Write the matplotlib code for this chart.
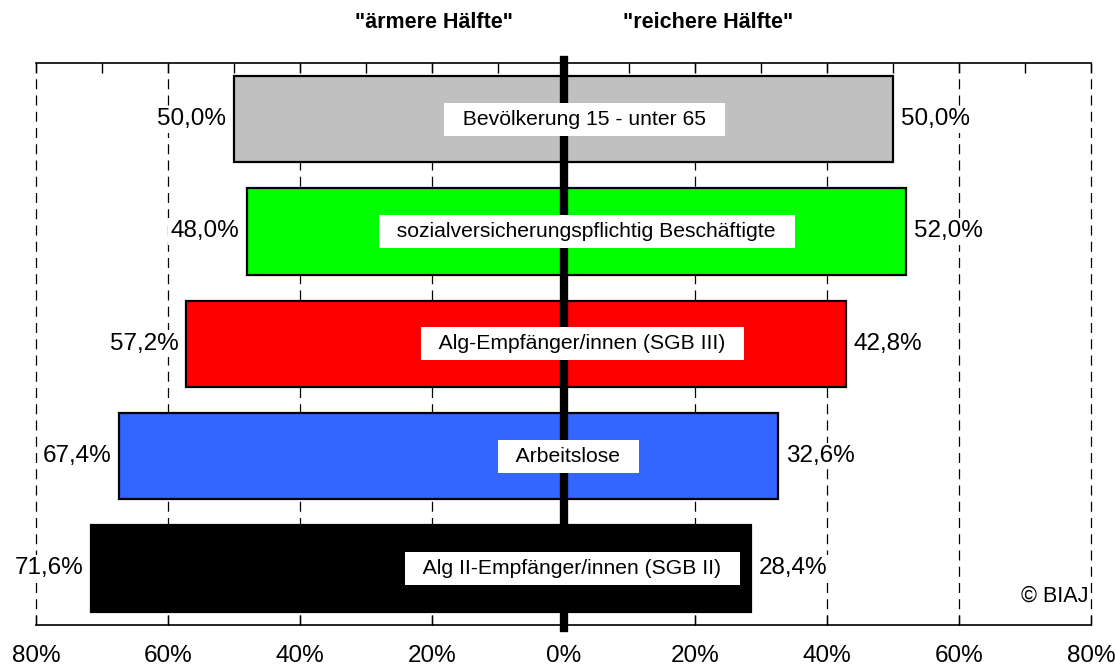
import matplotlib
matplotlib.use('Agg')
import matplotlib.pyplot as plt
from matplotlib.ticker import FuncFormatter, MultipleLocator

plt.rcParams['font.family'] = ['Liberation Sans', 'DejaVu Sans']

categories = ['Bevölkerung 15 - unter 65',
              'sozialversicherungspflichtig Beschäftigte',
              'Alg-Empfänger/innen (SGB III)',
              'Arbeitslose',
              'Alg II-Empfänger/innen (SGB II)']
poorer_half = [50.0, 48.0, 57.2, 67.4, 71.6]
richer_half = [50.0, 52.0, 42.8, 32.6, 28.4]
bar_colors = ['#C0C0C0', '#00FF00', '#FF0000', '#3366FF', '#000000']
header_left = '"ärmere Hälfte"'
header_right = '"reichere Hälfte"'
copyright_text = '© BIAJ'

# where the white name boxes sit (x in percent)
label_x = [3.2, 3.5, 2.9, 0.8, 1.4]


def pct(v):
    return ('%.1f' % v).replace('.', ',') + '%'


fig = plt.figure(figsize=(11.15, 6.69), dpi=100)
ax = fig.add_axes([0.0323, 0.0665, 0.9462, 0.8393])

ypos = list(range(len(categories)))
widths = [p + r for p, r in zip(poorer_half, richer_half)]
lefts = [-p for p in poorer_half]
ax.barh(ypos, widths, left=lefts, height=0.77, color=bar_colors,
        edgecolor='black', linewidth=1.6, zorder=3)

white = dict(boxstyle='square,pad=0.1', facecolor='white', edgecolor='none')
for i in ypos:
    ax.text(-poorer_half[i] - 1.2, i, pct(poorer_half[i]), ha='right', va='center',
            fontsize=17.5, zorder=5, bbox=white)
    ax.text(richer_half[i] + 1.2, i, pct(richer_half[i]), ha='left', va='center',
            fontsize=17.5, zorder=5, bbox=white)
    ax.text(label_x[i], i, '  ' + categories[i] + '  ', ha='center', va='center',
            fontsize=15.2, zorder=6,
            bbox=dict(boxstyle='square,pad=0.33', facecolor='white', edgecolor='none'))

# dashed guide lines
for g in [-80, -60, -40, -20, 20, 40, 60, 80]:
    ax.axvline(g, color='black', linestyle=(0, (8, 5)), linewidth=0.9, zorder=1, clip_on=False)

# thick centre line
ax.axvline(0, ymin=-0.006, ymax=1.006, color='black', linewidth=6, zorder=4, clip_on=False)

ax.set_xlim(-80, 80)
ax.set_ylim(4.5, -0.5)
ax.set_yticks([])

ax.xaxis.set_major_locator(MultipleLocator(20))
ax.xaxis.set_minor_locator(MultipleLocator(10))
ax.xaxis.set_major_formatter(FuncFormatter(lambda x, p: '%d%%' % abs(round(x))))
ax.tick_params(axis='x', which='major', direction='in', length=7, width=1,
               top=True, bottom=True, labelsize=17.5, pad=15)
ax.tick_params(axis='x', which='minor', direction='in', length=7, width=1,
               top=True, bottom=False)

for s in ['left', 'right']:
    ax.spines[s].set_visible(False)
for s in ['top', 'bottom']:
    ax.spines[s].set_linewidth(1.2)

trans = ax.get_xaxis_transform()
ax.text(-19.7, 1.073, header_left, transform=trans, ha='center', va='center',
        fontsize=15.5, fontweight='bold')
ax.text(22.0, 1.073, header_right, transform=trans, ha='center', va='center',
        fontsize=15.5, fontweight='bold')
ax.text(79.6, 4.25, copyright_text, ha='right', va='center', fontsize=15.5, zorder=5)

plt.savefig('out.png', dpi=100)
